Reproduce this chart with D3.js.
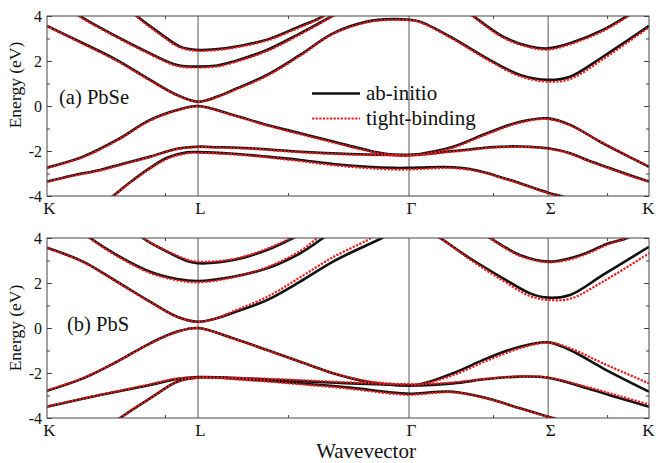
<!DOCTYPE html>
<html>
<head>
<meta charset="utf-8">
<script src="https://cdn.jsdelivr.net/npm/d3@7"></script>
<style>
  html, body { margin: 0; padding: 0; background: #fff; }
  svg { display: block; }
</style>
</head>
<body>
<div id="chart"></div>
<script>
// k-path (units of 2pi/a) and labels
const kLabels = ['K', 'L', 'Γ', 'Σ', 'K'];
const kPoints = [0, 0.62, 1.486, 2.057, 2.471];
const kMinorTicks = [0.484, 0.989, 1.831, 2.299];
const energyMajor = [-4, -2, 0, 2, 4];
const energyMinor = [-3, -1, 1, 3];
const legendLabels = ['ab-initio', 'tight-binding'];
const panelLabels = ['(a) PbSe', '(b) PbS'];

// PbSe bands, [k, E(eV)]
const pbseAbInitio = [
  [[0.20,-4.6],[0.271,-4.0],[0.34,-3.4],[0.411,-2.84],[0.493,-2.3],[0.575,-2.06],[0.62,-2.05],[0.764,-2.12],[0.903,-2.25],[1.039,-2.4],[1.174,-2.58],[1.314,-2.7],[1.42,-2.75],[1.486,-2.75],[1.531,-2.74],[1.613,-2.71],[1.667,-2.72],[1.736,-2.8],[1.806,-2.98],[1.872,-3.2],[1.942,-3.43],[2.0,-3.65],[2.057,-3.85],[2.118,-4.03],[2.2,-4.3]],
  [[0,-3.36],[0.1,-3.1],[0.218,-2.84],[0.3,-2.6],[0.423,-2.25],[0.534,-1.9],[0.62,-1.81],[0.70,-1.83],[0.833,-1.88],[1.039,-2.03],[1.244,-2.13],[1.40,-2.17],[1.486,-2.18],[1.55,-2.14],[1.667,-2.0],[1.736,-1.93],[1.819,-1.83],[1.942,-1.8],[2.057,-1.88],[2.147,-2.1],[2.217,-2.4],[2.352,-2.92],[2.471,-3.36]],
  [[0,-2.74],[0.148,-2.25],[0.287,-1.51],[0.423,-0.62],[0.534,-0.18],[0.62,0],[0.764,-0.4],[0.903,-0.84],[1.039,-1.21],[1.174,-1.58],[1.314,-1.96],[1.396,-2.13],[1.486,-2.18],[1.531,-2.13],[1.667,-1.81],[1.806,-1.21],[1.942,-0.7],[2.057,-0.55],[2.147,-0.84],[2.282,-1.66],[2.471,-2.7]],
  [[0,3.56],[0.148,2.79],[0.287,2.04],[0.423,1.16],[0.534,0.49],[0.62,0.19],[0.70,0.42],[0.764,0.71],[0.903,1.38],[1.039,2.27],[1.174,3.23],[1.314,3.75],[1.42,3.86],[1.486,3.83],[1.531,3.75],[1.667,3.01],[1.806,2.12],[1.942,1.38],[2.057,1.16],[2.147,1.3],[2.282,2.19],[2.471,3.56]],
  [[0.10,4.3],[0.135,4.0],[0.287,3.08],[0.423,2.34],[0.534,1.82],[0.62,1.75],[0.70,1.8],[0.764,1.97],[0.903,2.49],[1.039,3.23],[1.170,4.0],[1.25,4.5]],
  [[1.68,4.5],[1.749,4.0],[1.872,3.08],[1.983,2.64],[2.057,2.56],[2.147,2.79],[2.282,3.38],[2.381,4.0],[2.43,4.3]],
  [[0.34,4.3],[0.369,4.0],[0.464,3.23],[0.546,2.64],[0.62,2.49],[0.70,2.53],[0.764,2.62],[0.903,2.95],[1.039,3.55],[1.108,3.85],[1.15,4.1],[1.2,4.4]]
];
const pbseTightBinding = [
  [[0.20,-4.6],[0.271,-4.0],[0.34,-3.42],[0.411,-2.87],[0.493,-2.35],[0.575,-2.1],[0.62,-2.08],[0.764,-2.15],[0.903,-2.28],[1.039,-2.45],[1.174,-2.63],[1.314,-2.76],[1.42,-2.82],[1.486,-2.82],[1.531,-2.8],[1.613,-2.76],[1.667,-2.76],[1.736,-2.84],[1.806,-3.0],[1.872,-3.22],[1.942,-3.45],[2.0,-3.67],[2.057,-3.88],[2.118,-4.05],[2.2,-4.3]],
  [[0,-3.38],[0.1,-3.12],[0.218,-2.87],[0.3,-2.63],[0.423,-2.27],[0.534,-1.92],[0.62,-1.83],[0.70,-1.85],[0.833,-1.9],[1.039,-2.06],[1.244,-2.16],[1.40,-2.19],[1.486,-2.2],[1.55,-2.16],[1.667,-2.03],[1.736,-1.96],[1.819,-1.86],[1.942,-1.82],[2.057,-1.9],[2.147,-2.12],[2.217,-2.42],[2.352,-2.95],[2.471,-3.38]],
  [[0,-2.76],[0.148,-2.28],[0.287,-1.54],[0.423,-0.65],[0.534,-0.2],[0.62,-0.02],[0.764,-0.42],[0.903,-0.87],[1.039,-1.25],[1.174,-1.62],[1.314,-1.99],[1.396,-2.15],[1.486,-2.2],[1.531,-2.16],[1.667,-1.85],[1.806,-1.25],[1.942,-0.74],[2.057,-0.58],[2.147,-0.86],[2.282,-1.64],[2.471,-2.7]],
  [[0,3.54],[0.148,2.76],[0.287,2.0],[0.423,1.13],[0.534,0.47],[0.62,0.19],[0.70,0.4],[0.764,0.68],[0.903,1.34],[1.039,2.23],[1.174,3.2],[1.314,3.72],[1.42,3.83],[1.486,3.81],[1.531,3.72],[1.667,2.97],[1.806,2.07],[1.942,1.32],[2.057,1.08],[2.147,1.2],[2.282,2.08],[2.471,3.5]],
  [[0.10,4.3],[0.135,3.97],[0.287,3.05],[0.423,2.3],[0.534,1.78],[0.62,1.71],[0.70,1.76],[0.764,1.93],[0.903,2.44],[1.039,3.18],[1.170,3.97],[1.25,4.5]],
  [[1.68,4.5],[1.749,3.97],[1.872,3.04],[1.983,2.6],[2.057,2.51],[2.147,2.74],[2.282,3.33],[2.381,3.96],[2.43,4.3]],
  [[0.34,4.3],[0.369,3.97],[0.464,3.18],[0.546,2.6],[0.62,2.45],[0.70,2.49],[0.764,2.58],[0.903,2.91],[1.039,3.5],[1.108,3.82],[1.15,4.07],[1.2,4.4]]
];

// PbS bands, [k, E(eV)]
const pbsAbInitio = [
  [[0.24,-4.5],[0.300,-4.0],[0.423,-3.13],[0.534,-2.39],[0.62,-2.2],[0.833,-2.3],[1.039,-2.46],[1.244,-2.65],[1.40,-2.85],[1.486,-2.92],[1.531,-2.9],[1.667,-2.83],[1.806,-3.12],[1.942,-3.57],[2.057,-3.94],[2.077,-4.0],[2.15,-4.3]],
  [[0,-3.5],[0.218,-2.98],[0.423,-2.53],[0.534,-2.27],[0.62,-2.18],[0.833,-2.25],[1.039,-2.36],[1.244,-2.46],[1.449,-2.53],[1.486,-2.55],[1.531,-2.55],[1.667,-2.46],[1.806,-2.27],[1.942,-2.16],[2.057,-2.21],[2.217,-2.68],[2.352,-3.12],[2.471,-3.5]],
  [[0,-2.79],[0.148,-2.24],[0.287,-1.5],[0.423,-0.68],[0.534,-0.16],[0.62,0],[0.764,-0.46],[0.903,-0.98],[1.039,-1.5],[1.174,-2.01],[1.314,-2.39],[1.42,-2.53],[1.486,-2.55],[1.531,-2.5],[1.667,-2.01],[1.806,-1.35],[1.942,-0.83],[2.057,-0.64],[2.147,-0.98],[2.282,-1.79],[2.471,-2.83]],
  [[0,3.57],[0.148,2.95],[0.287,2.06],[0.423,1.17],[0.534,0.5],[0.62,0.28],[0.70,0.44],[0.764,0.68],[0.903,1.24],[1.039,2.06],[1.174,2.95],[1.314,3.69],[1.375,4.0],[1.42,4.3]],
  [[1.55,4.4],[1.613,4.0],[1.736,3.1],[1.872,2.21],[1.983,1.54],[2.057,1.35],[2.147,1.47],[2.282,2.36],[2.471,3.61]],
  [[0.13,4.4],[0.177,4.0],[0.287,3.24],[0.423,2.5],[0.534,2.18],[0.62,2.09],[0.764,2.28],[0.903,2.65],[1.039,3.32],[1.133,4.0],[1.18,4.4]],
  [[1.76,4.4],[1.819,4.0],[1.942,3.24],[2.057,2.95],[2.147,3.1],[2.217,3.35],[2.3,3.75],[2.381,4.0],[2.43,4.3]],
  [[0.36,4.4],[0.394,4.0],[0.493,3.39],[0.575,2.98],[0.62,2.88],[0.764,3.02],[0.903,3.47],[1.010,4.0],[1.06,4.3]]
];
const pbsTightBinding = [
  [[0.24,-4.5],[0.300,-4.0],[0.423,-3.12],[0.534,-2.4],[0.62,-2.22],[0.833,-2.32],[1.039,-2.5],[1.244,-2.7],[1.40,-2.9],[1.486,-2.97],[1.531,-2.94],[1.667,-2.86],[1.806,-3.14],[1.942,-3.58],[2.057,-3.95],[2.077,-4.0],[2.15,-4.3]],
  [[0,-3.48],[0.218,-2.97],[0.423,-2.5],[0.534,-2.24],[0.62,-2.2],[0.833,-2.23],[1.039,-2.32],[1.244,-2.42],[1.449,-2.5],[1.486,-2.5],[1.531,-2.5],[1.667,-2.42],[1.806,-2.25],[1.942,-2.15],[2.057,-2.2],[2.217,-2.62],[2.352,-3.03],[2.471,-3.4]],
  [[0,-2.77],[0.148,-2.22],[0.287,-1.5],[0.423,-0.7],[0.534,-0.18],[0.62,-0.01],[0.764,-0.47],[0.903,-0.99],[1.039,-1.5],[1.174,-2.0],[1.314,-2.36],[1.42,-2.48],[1.486,-2.5],[1.531,-2.5],[1.667,-2.1],[1.806,-1.45],[1.942,-0.9],[2.057,-0.65],[2.147,-0.9],[2.282,-1.57],[2.471,-2.46]],
  [[0,3.55],[0.148,2.93],[0.287,2.04],[0.423,1.15],[0.534,0.49],[0.62,0.27],[0.70,0.45],[0.764,0.74],[0.903,1.38],[1.039,2.25],[1.174,3.15],[1.314,3.9],[1.36,4.2],[1.4,4.4]],
  [[1.55,4.4],[1.613,4.0],[1.736,3.05],[1.872,2.1],[1.983,1.42],[2.057,1.25],[2.147,1.3],[2.282,2.06],[2.471,3.32]],
  [[0.13,4.4],[0.177,3.98],[0.287,3.2],[0.423,2.45],[0.534,2.12],[0.62,2.03],[0.764,2.25],[0.903,2.7],[1.039,3.42],[1.11,4.0],[1.16,4.4]],
  [[1.76,4.4],[1.819,3.98],[1.942,3.2],[2.057,2.92],[2.147,3.05],[2.217,3.3],[2.3,3.7],[2.381,4.0],[2.43,4.3]],
  [[0.36,4.4],[0.394,4.0],[0.493,3.42],[0.575,3.04],[0.62,2.95],[0.764,3.06],[0.903,3.52],[1.010,4.05],[1.06,4.35]]
];

const W = 656, H = 463;
const left = 47, right = 649, panelH = 180;
const serif = '"Liberation Serif", "Times New Roman", Times, "DejaVu Serif", serif';
const panels = [
  { label: panelLabels[0], ab: pbseAbInitio, tb: pbseTightBinding, top: 16, labelX: 59, labelY: 104, titleY: 85 },
  { label: panelLabels[1], ab: pbsAbInitio, tb: pbsTightBinding, top: 238, labelX: 67, labelY: 331, titleY: 328 }
];
const black = '#111', red = '#f01a1a', frame = '#444';

const svg = d3.select('#chart').append('svg')
  .attr('width', W).attr('height', H)
  .attr('viewBox', `0 0 ${W} ${H}`)
  .style('font-family', serif);

const x = d3.scaleLinear().domain([kPoints[0], kPoints[kPoints.length - 1]]).range([left, right]);

function styleAxis(g, size) {
  g.attr('font-family', serif).attr('font-size', size).attr('color', frame);
  g.select('.domain').remove();
  g.selectAll('text').attr('fill', '#111').attr('font-family', serif);
}

panels.forEach((p, i) => {
  const y = d3.scaleLinear().domain([-4, 4]).range([p.top + panelH, p.top]);
  const g = svg.append('g').attr('class', 'panel');

  svg.append('clipPath').attr('id', 'clip' + i)
    .append('rect').attr('x', left).attr('y', p.top).attr('width', right - left).attr('height', panelH);

  // high-symmetry lines
  g.selectAll('line.sym').data(kPoints.slice(1, -1)).join('line')
    .attr('class', 'sym')
    .attr('x1', d => x(d)).attr('x2', d => x(d))
    .attr('y1', p.top).attr('y2', p.top + panelH)
    .attr('stroke', '#555').attr('stroke-width', 1);

  const line = d3.line().curve(d3.curveCatmullRom.alpha(0.5)).x(d => x(d[0])).y(d => y(d[1]));
  const bands = g.append('g').attr('clip-path', `url(#clip${i})`);
  bands.selectAll('path.ab').data(p.ab).join('path')
    .attr('class', 'ab').attr('d', line)
    .attr('fill', 'none').attr('stroke', black).attr('stroke-width', 2.6);
  bands.selectAll('path.tb').data(p.tb).join('path')
    .attr('class', 'tb').attr('d', line)
    .attr('fill', 'none').attr('stroke', red).attr('stroke-width', 2.2)
    .attr('stroke-dasharray', '2.2,1.4');

  // axes, ticks pointing inward
  g.append('g').attr('transform', `translate(${left},0)`)
    .call(d3.axisLeft(y).tickValues(energyMajor).tickSize(-5).tickPadding(5).tickFormat(d => String(d)))
    .call(a => styleAxis(a, 16));
  g.append('g').attr('transform', `translate(${left},0)`)
    .call(d3.axisLeft(y).tickValues(energyMinor).tickSize(-3).tickFormat(''))
    .call(a => styleAxis(a, 16));
  g.append('g').attr('transform', `translate(${right},0)`)
    .call(d3.axisRight(y).tickValues(energyMajor).tickSize(-5).tickFormat(''))
    .call(a => styleAxis(a, 16));
  g.append('g').attr('transform', `translate(${right},0)`)
    .call(d3.axisRight(y).tickValues(energyMinor).tickSize(-3).tickFormat(''))
    .call(a => styleAxis(a, 16));
  g.append('g').attr('transform', `translate(0,${p.top + panelH})`)
    .call(d3.axisBottom(x).tickValues(kPoints).tickSize(0).tickPadding(6).tickFormat((d, j) => kLabels[j]))
    .call(a => styleAxis(a, 17))
    .call(a => a.selectAll('text').attr('dx', (d, j) => j === kLabels.length - 1 ? -1 : 2));
  g.append('g').attr('transform', `translate(0,${p.top + panelH})`)
    .call(d3.axisBottom(x).tickValues(kMinorTicks).tickSize(-3).tickFormat(''))
    .call(a => styleAxis(a, 17));
  g.append('g').attr('transform', `translate(0,${p.top})`)
    .call(d3.axisTop(x).tickValues(kMinorTicks).tickSize(-3).tickFormat(''))
    .call(a => styleAxis(a, 17));

  g.append('rect')
    .attr('x', left).attr('y', p.top).attr('width', right - left).attr('height', panelH)
    .attr('fill', 'none').attr('stroke', frame).attr('stroke-width', 1);

  g.append('text')
    .attr('transform', `translate(21,${p.titleY}) rotate(-90)`)
    .attr('text-anchor', 'middle').attr('font-size', 17.5).attr('fill', '#111')
    .attr('font-family', serif)
    .text('Energy (eV)');

  g.append('text')
    .attr('x', p.labelX).attr('y', p.labelY)
    .attr('font-size', 20.5).attr('fill', '#111')
    .attr('font-family', serif)
    .text(p.label);
});

// legend (top panel)
const legend = svg.append('g').attr('class', 'legend');
const legendStyles = [
  { stroke: black, width: 2.6, dash: null },
  { stroke: red, width: 2.2, dash: '2.2,1.4' }
];
legendLabels.forEach((name, i) => {
  const ly = 93.5 + i * 25;
  legend.append('line')
    .attr('x1', 312).attr('x2', 360).attr('y1', ly).attr('y2', ly)
    .attr('stroke', legendStyles[i].stroke).attr('stroke-width', legendStyles[i].width)
    .attr('stroke-dasharray', legendStyles[i].dash);
  legend.append('text')
    .attr('x', 366).attr('y', ly + 6.5)
    .attr('font-size', 21).attr('fill', '#111')
    .attr('font-family', serif)
    .text(name);
});

svg.append('text')
  .attr('x', 366).attr('y', 458)
  .attr('text-anchor', 'middle').attr('font-size', 21).attr('fill', '#111')
  .attr('font-family', serif)
  .text('Wavevector');
</script>
</body>
</html>
